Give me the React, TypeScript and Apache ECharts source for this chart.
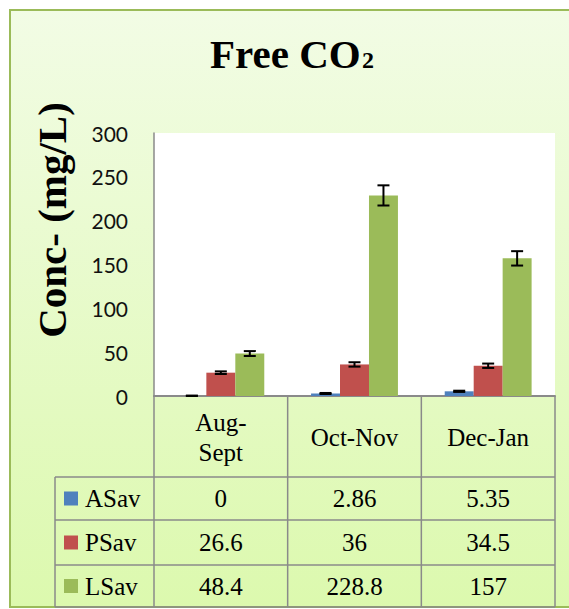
import React, { useEffect, useRef } from "react";
import * as echarts from "echarts";

const categories = ["Aug-Sept", "Oct-Nov", "Dec-Jan"];
const categoryLabels = ["Aug-\nSept", "Oct-Nov", "Dec-Jan"];
const seriesNames = ["ASav", "PSav", "LSav"];
const seriesColors = ["#4f81bd", "#c0504d", "#9bbb59"];
const aSav = [0, 2.86, 5.35];
const pSav = [26.6, 36, 34.5];
const lSav = [48.4, 228.8, 157];
const aSavErr = [0.5, 0.6, 0.7];
const pSavErr = [1.5, 2.5, 2.5];
const lSavErr = [2.8, 11.5, 8.2];
const yMin = 0;
const yMax = 300;
const yInterval = 50;

const W = 569;
const H = 609;
const GL = 154;
const GT = 133;
const GW = 401;
const GH = 263;
const ROWS = [396, 477, 520, 565, 607];
const LEG_X = 55;
const SERIF = "Liberation Serif, serif";
const GRID_LINE = "#8a8a8a";

function txt(x: number, y: number, text: string, size: number, bold: boolean, align: string, extra: any = {}) {
  return {
    type: "text",
    x,
    y,
    ...extra,
    style: {
      text,
      fontFamily: SERIF,
      fontSize: size,
      fontWeight: bold ? "bold" : "normal",
      fill: "#000",
      align,
      verticalAlign: "middle",
      ...(extra.style || {}),
    },
  };
}

export default function App() {
  const ref = useRef<HTMLDivElement>(null);
  useEffect(() => {
    if (!ref.current) return;
    const chart = echarts.init(ref.current, null, { renderer: "svg" });
    const values = [aSav, pSav, lSav];
    const errs = [aSavErr, pSavErr, lSavErr];
    const colW = GW / categories.length;
    const gap = 0.35;

    const graphics: any[] = [];
    graphics.push({
      type: "rect",
      z: -10,
      shape: { x: 10, y: 10, width: 580, height: 597 },
      style: {
        fill: new echarts.graphic.LinearGradient(0, 0, 0, 1, [
          { offset: 0, color: "#f2fce5" },
          { offset: 1, color: "#dcf9ae" },
        ]),
        stroke: "#9bbb59",
        lineWidth: 2,
      },
    });
    graphics.push(txt(210, 54, "Free CO", 41, true, "left"));
    graphics.push(txt(362, 60, "2", 24, true, "left"));
    graphics.push(txt(52, 220, "Conc- (mg/L)", 41, true, "center", { rotation: Math.PI / 2 }));
    ROWS.forEach((y, i) => {
      graphics.push({
        type: "line",
        shape: { x1: i === 0 ? GL : LEG_X, y1: y, x2: GL + GW, y2: y },
        style: { stroke: GRID_LINE, lineWidth: 1.5 },
      });
    });
    for (let c = 0; c <= categories.length; c++) {
      const x = GL + c * colW;
      graphics.push({
        type: "line",
        shape: { x1: x, y1: ROWS[0], x2: x, y2: ROWS[ROWS.length - 1] },
        style: { stroke: GRID_LINE, lineWidth: 1.5 },
      });
    }
    graphics.push({
      type: "line",
      shape: { x1: LEG_X, y1: ROWS[1], x2: LEG_X, y2: ROWS[ROWS.length - 1] },
      style: { stroke: GRID_LINE, lineWidth: 1.5 },
    });
    categoryLabels.forEach((lab, c) => {
      graphics.push(
        txt(GL + (c + 0.5) * colW, (ROWS[0] + ROWS[1]) / 2 + 1, lab, 25, false, "center", {
          style: { lineHeight: 30 },
        })
      );
    });
    seriesNames.forEach((name, r) => {
      const cy = (ROWS[r + 1] + ROWS[r + 2]) / 2;
      graphics.push({
        type: "rect",
        shape: { x: 64, y: cy - 7, width: 14, height: 14 },
        style: { fill: seriesColors[r] },
      });
      graphics.push(txt(85, cy, name, 25, false, "left"));
      values[r].forEach((v, c) => {
        graphics.push(txt(GL + (c + 0.5) * colW, cy, String(v), 25, false, "center"));
      });
    });

    const barSeries = seriesNames.map((name, i) => ({
      type: "bar",
      name,
      data: values[i],
      barGap: "0%",
      barCategoryGap: `${gap * 100}%`,
      itemStyle: { color: seriesColors[i] },
      z: 2,
    }));

    const errSeries = seriesNames.map((name, i) => ({
      type: "custom",
      name: name + " err",
      z: 5,
      data: values[i].map((v, c) => [c, v, errs[i][c]]),
      renderItem: (params: any, api: any) => {
        const c = api.value(0);
        const v = api.value(1);
        const e = api.value(2);
        const band = api.size([1, 0])[0];
        const bw = (band * (1 - gap)) / seriesNames.length;
        const center = api.coord([c, v]);
        const x = center[0] + (i - (seriesNames.length - 1) / 2) * bw;
        const yTop = api.coord([c, v + e])[1];
        const yBot = api.coord([c, Math.max(v - e, 0)])[1];
        const hw = 6;
        const st = { stroke: "#000", lineWidth: 2 };
        return {
          type: "group",
          children: [
            { type: "line", shape: { x1: x, y1: yTop, x2: x, y2: yBot }, style: st },
            { type: "line", shape: { x1: x - hw, y1: yTop, x2: x + hw, y2: yTop }, style: st },
            { type: "line", shape: { x1: x - hw, y1: yBot, x2: x + hw, y2: yBot }, style: st },
          ],
        };
      },
    }));

    chart.setOption({
      animation: false,
      backgroundColor: "#ffffff",
      grid: {
        left: GL,
        top: GT,
        width: GW,
        height: GH,
        show: true,
        backgroundColor: "#ffffff",
        borderWidth: 0,
      },
      xAxis: {
        type: "category",
        data: categories,
        axisLine: { show: true, lineStyle: { color: GRID_LINE, width: 2 } },
        axisTick: { show: false },
        axisLabel: { show: false },
        splitLine: { show: false },
      },
      yAxis: {
        type: "value",
        min: yMin,
        max: yMax,
        interval: yInterval,
        axisLine: { show: true, lineStyle: { color: GRID_LINE, width: 1.5 } },
        axisTick: { show: false },
        splitLine: { show: false },
        axisLabel: {
          margin: 26,
          color: "#111",
          fontFamily: "Lato",
          fontSize: 21,
        },
      },
      graphic: graphics,
      series: [...barSeries, ...errSeries],
    });
    return () => chart.dispose();
  }, []);
  return (
    <div
      ref={ref}
      style={{ position: "fixed", left: 0, top: 0, width: W, height: H }}
    />
  );
}
